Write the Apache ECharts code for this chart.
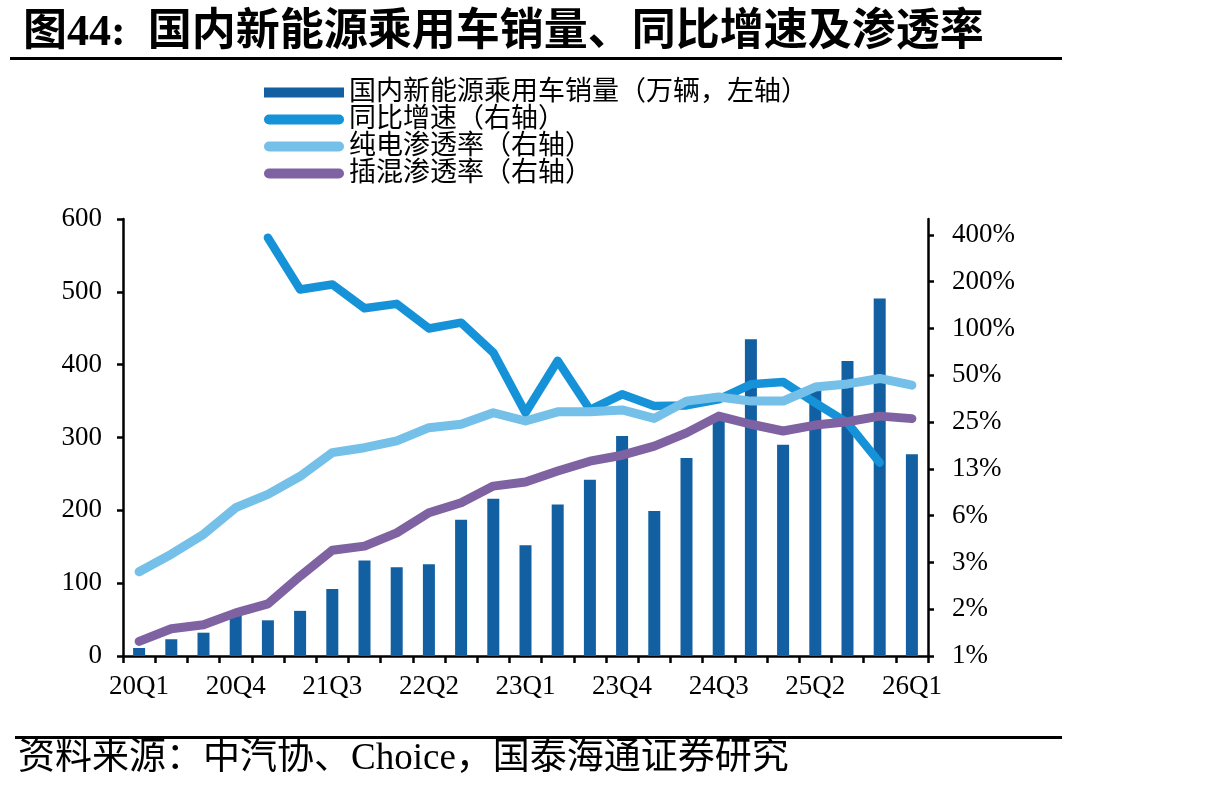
<!DOCTYPE html>
<html>
<head>
<meta charset="utf-8">
<script src="https://cdn.jsdelivr.net/npm/echarts@6/dist/echarts.min.js"></script>
<style>
  html, body { margin: 0; padding: 0; background: #fff; }
  #main { width: 1217px; height: 791px; }
</style>
</head>
<body>
<div id="main"></div>
<script>
// quarters 20Q1 .. 26Q1
const quarters = [
  "20Q1", "20Q2", "20Q3", "20Q4", "21Q1", "21Q2", "21Q3", "21Q4",
  "22Q1", "22Q2", "22Q3", "22Q4", "23Q1", "23Q2", "23Q3", "23Q4",
  "24Q1", "24Q2", "24Q3", "24Q4", "25Q1", "25Q2", "25Q3", "25Q4", "26Q1"
];
// 国内新能源乘用车销量（万辆）
const sales = [
  11, 23, 32, 58, 49, 62, 92, 131,
  122, 126, 187, 216, 152, 208, 242, 302,
  199, 272, 330, 435, 290, 368, 405, 491, 277
];
// 同比增速 (%)
const growth = [
  null, null, null, null, 384, 178, 192, 135,
  144, 100, 109, 70, 28.7, 62, 30, 37.7,
  31.7, 32, 35, 43.7, 45.3, 33.2, 24.7, 13.7, null
];
// 纯电渗透率 (%)
const bevPen = [
  2.72, 3.53, 4.74, 7.03, 8.57, 11.2, 15.9, 17.1,
  18.9, 23, 24.2, 28.7, 25.4, 29.1, 29.1, 29.9,
  26.4, 34.1, 36.2, 34.1, 34.1, 42, 44, 47.7, 43.2
];
// 插混渗透率 (%)
const phevPen = [
  0.97, 1.17, 1.24, 1.48, 1.69, 2.55, 3.74, 3.98,
  4.84, 6.52, 7.57, 9.68, 10.3, 12.1, 14.0, 15.3,
  17.5, 21.3, 27.3, 24.2, 21.9, 23.9, 25.1, 27.3, 26.3
];
// right axis: log2 scale, one step per doubling, bottom step = 0.78125%
const rightTicks = ["1%", "2%", "3%", "6%", "13%", "25%", "50%", "100%", "200%", "400%"];
const logBottom = 0.78125;
const toLog = (v) => (v == null ? null : Math.log2(v / logBottom));

const serif = "'Liberation Serif', 'Noto Sans CJK SC', serif";
const names = [
  "国内新能源乘用车销量（万辆，左轴）",
  "同比增速（右轴）",
  "纯电渗透率（右轴）",
  "插混渗透率（右轴）"
];
const capsule = "path://M5,0 L75,0 A5,5 0 0 1 75,10 L5,10 A5,5 0 0 1 5,0 Z";

const chart = echarts.init(document.getElementById("main"));

const axisLine = { show: true, lineStyle: { color: "#000", width: 2.5 } };
const labelFont = { color: "#000", fontFamily: serif, fontSize: 27 };

chart.setOption({
  backgroundColor: "#fff",
  animation: false,
  title: {
    text: "图44:  国内新能源乘用车销量、同比增速及渗透率",
    left: 18,
    top: 7,
    textStyle: { fontFamily: serif, fontSize: 44, fontWeight: "bold", color: "#000" }
  },
  graphic: [
    { type: "rect", shape: { x: 10, y: 57, width: 1052, height: 3 }, style: { fill: "#000" } },
    { type: "rect", shape: { x: 15, y: 736, width: 1047, height: 3 }, style: { fill: "#000" } },
    {
      type: "text", left: 18, top: 741,
      style: { text: "资料来源：中汽协、Choice，国泰海通证券研究", font: "37px " + serif, fill: "#000" }
    }
  ],
  legend: {
    orient: "vertical",
    left: 259,
    top: 74,
    itemGap: 0,
    itemWidth: 80,
    itemHeight: 10,
    textStyle: { fontFamily: serif, fontSize: 27, lineHeight: 26, color: "#000" },
    data: [
      { name: names[0], icon: "rect" },
      { name: names[1], icon: capsule },
      { name: names[2], icon: capsule },
      { name: names[3], icon: capsule }
    ]
  },
  grid: { left: 123, right: 289, top: 219, bottom: 135 },
  xAxis: {
    type: "category",
    data: quarters,
    boundaryGap: true,
    axisLine: axisLine,
    axisTick: { show: true, interval: 0, length: 7, lineStyle: { color: "#000", width: 2.5 } },
    axisLabel: Object.assign({ interval: 2, margin: 17 }, labelFont),
    splitLine: { show: false }
  },
  yAxis: [
    {
      type: "value",
      min: 0,
      max: 600,
      interval: 100,
      axisLine: axisLine,
      axisTick: { show: true, length: 6, lineStyle: { color: "#000", width: 2.5 } },
      axisLabel: Object.assign({ margin: 21 }, labelFont),
      splitLine: { show: false }
    },
    {
      type: "value",
      position: "right",
      min: 0,
      max: 9.34,
      interval: 1,
      axisLine: axisLine,
      axisTick: {
        show: true, length: 6, customValues: [0, 1, 2, 3, 4, 5, 6, 7, 8, 9],
        lineStyle: { color: "#000", width: 2.5 }
      },
      axisLabel: Object.assign({
        margin: 24,
        customValues: [0, 1, 2, 3, 4, 5, 6, 7, 8, 9],
        formatter: (v) => rightTicks[Math.round(v)]
      }, labelFont),
      splitLine: { show: false }
    }
  ],
  series: [
    {
      name: names[0],
      type: "bar",
      yAxisIndex: 0,
      barWidth: 12,
      itemStyle: { color: "#125FA2" },
      data: sales
    },
    {
      name: names[1],
      type: "line",
      yAxisIndex: 1,
      symbol: "none",
      itemStyle: { color: "#1592D8" },
      lineStyle: { color: "#1592D8", width: 8.5, cap: "round", join: "round" },
      data: growth.map(toLog)
    },
    {
      name: names[2],
      type: "line",
      yAxisIndex: 1,
      symbol: "none",
      itemStyle: { color: "#74C0E8" },
      lineStyle: { color: "#74C0E8", width: 9, cap: "round", join: "round" },
      data: bevPen.map(toLog)
    },
    {
      name: names[3],
      type: "line",
      yAxisIndex: 1,
      symbol: "none",
      itemStyle: { color: "#7F62A2" },
      lineStyle: { color: "#7F62A2", width: 9, cap: "round", join: "round" },
      data: phevPen.map(toLog)
    }
  ]
});
</script>
</body>
</html>
